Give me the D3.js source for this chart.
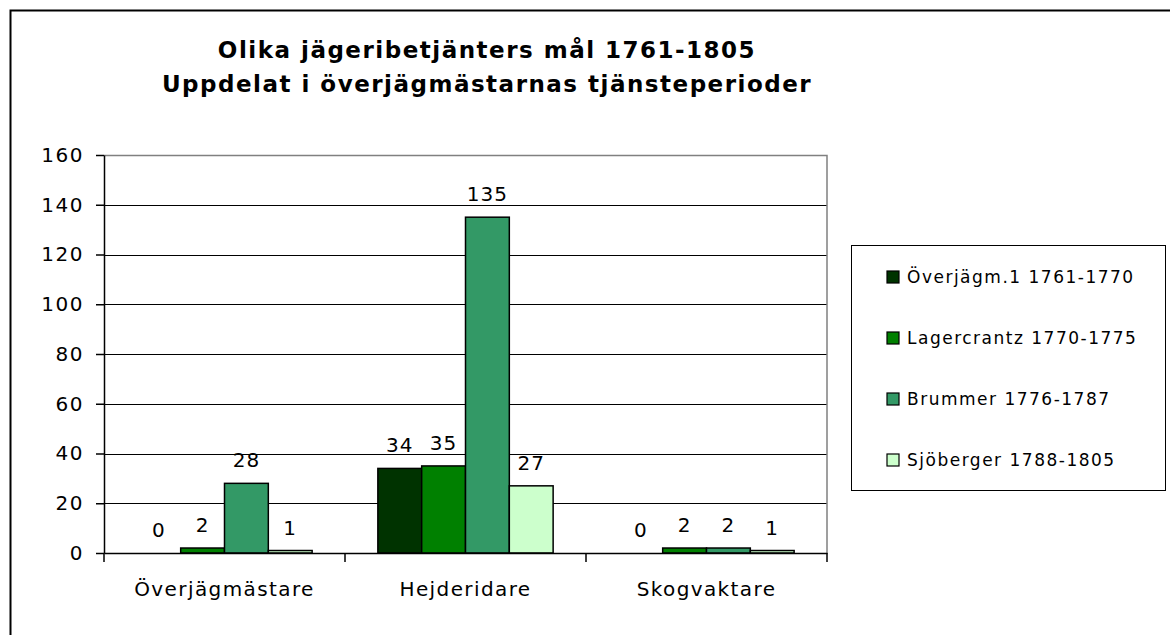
<!DOCTYPE html>
<html>
<head>
<meta charset="utf-8">
<script src="https://cdn.jsdelivr.net/npm/d3@7"></script>
<style>
  body { margin: 0; background: #fff; }
  svg { display: block; font-family: "DejaVu Sans", Verdana, sans-serif; }
</style>
</head>
<body>
<div id="chart-area"></div>
<script>
var categories = ["Överjägmästare", "Hejderidare", "Skogvaktare"];
var seriesNames = ["Överjägm.1 1761-1770", "Lagercrantz 1770-1775", "Brummer 1776-1787", "Sjöberger 1788-1805"];
var seriesColors = ["#003300", "#008000", "#339966", "#ccffcc"];
var overjagm1 = [0, 34, 0];
var lagercrantz = [2, 35, 2];
var brummer = [28, 135, 2];
var sjoberger = [1, 27, 1];
var yTicks = [0, 20, 40, 60, 80, 100, 120, 140, 160];
var titleLines = ["Olika jägeribetjänters mål 1761-1805", "Uppdelat i överjägmästarnas tjänsteperioder"];

var seriesValues = [overjagm1, lagercrantz, brummer, sjoberger];

var margin = {top: 155, left: 104, bottom: 82, right: 343},
    width = 1170 - margin.left - margin.right,
    height = 635 - margin.top - margin.bottom;

var svg = d3.select("#chart-area").append("svg")
    .attr("width", 1170)
    .attr("height", 635);

// outer chart border (runs off the right and bottom edges)
svg.append("rect")
    .attr("x", 10.5).attr("y", 10.5)
    .attr("width", 1200).attr("height", 700)
    .attr("fill", "none")
    .attr("stroke", "#000")
    .attr("stroke-width", 2);

var title = svg.append("text")
    .attr("x", 487)
    .attr("text-anchor", "middle")
    .style("font-weight", "bold")
    .style("font-size", "23px")
    .style("letter-spacing", "1.5px");
title.selectAll("tspan").data(titleLines).enter().append("tspan")
    .attr("x", 487)
    .attr("y", (d, i) => 58 + i * 34)
    .text((d) => d);

var g = svg.append("g")
    .attr("transform", "translate(" + margin.left + ", " + margin.top + ")");

var x0 = d3.scaleBand().domain(categories).range([0, width]).paddingInner(0).paddingOuter(0);
var gap = x0.bandwidth() * 1.5 / 5.5 / 2;
var x1 = d3.scaleBand().domain(d3.range(seriesNames.length))
    .range([gap, x0.bandwidth() - gap]).padding(0);
var y = d3.scaleLinear().domain([0, 160]).range([height, 0]);

// gridlines
g.append("g")
    .attr("class", "grid")
    .call(d3.axisLeft(y).tickValues(yTicks.slice(1, -1)).tickSize(-width).tickFormat(""))
    .call((s) => s.select(".domain").remove())
    .selectAll("line")
    .attr("stroke", "#000")
    .attr("shape-rendering", "crispEdges");

// plot area frame (top + right)
g.append("path")
    .attr("d", "M0,0.5H" + width + "V" + height)
    .attr("fill", "none")
    .attr("stroke", "#808080")
    .attr("stroke-width", 1.5);

var yAxis = g.append("g")
    .call(d3.axisLeft(y).tickValues(yTicks).tickSize(8).tickSizeOuter(0).tickPadding(12));
yAxis.select(".domain").attr("stroke", "#000").attr("stroke-width", 1.5);
yAxis.selectAll("line").attr("stroke", "#000").attr("stroke-width", 1.5);
yAxis.selectAll("text")
    .style("font-size", "20px")
    .style("letter-spacing", "1.5px")
    .style("font-family", "'DejaVu Sans', Verdana, sans-serif")
    .attr("fill", "#000");

// bars
var groups = g.selectAll(".cat").data(categories).enter().append("g")
    .attr("class", "cat")
    .attr("transform", (d) => "translate(" + x0(d) + ",0)");

groups.each(function(cat, ci) {
    var grp = d3.select(this);
    seriesValues.forEach((vals, si) => {
        var v = vals[ci];
        if (v > 0) {
            grp.append("rect")
                .attr("x", x1(si))
                .attr("y", y(v))
                .attr("width", x1.bandwidth())
                .attr("height", height - y(v))
                .attr("fill", seriesColors[si])
                .attr("stroke", "#000")
                .attr("stroke-width", 1.5);
        }
        grp.append("text")
            .attr("x", x1(si) + x1.bandwidth() / 2)
            .attr("y", y(v) - 16)
            .attr("text-anchor", "middle")
            .style("font-size", "20px")
            .style("letter-spacing", "1px")
            .text(v);
    });
});

// x axis
var xAxis = g.append("g")
    .attr("transform", "translate(0, " + height + ")")
    .call(d3.axisBottom(x0).tickSize(0).tickPadding(29));
xAxis.select(".domain").attr("stroke", "#000").attr("stroke-width", 1.5);
xAxis.selectAll("text")
    .style("font-size", "20px")
    .style("letter-spacing", "1.4px")
    .style("font-family", "'DejaVu Sans', Verdana, sans-serif")
    .attr("fill", "#000");
xAxis.selectAll(".sep").data(categories.concat([null])).enter().append("line")
    .attr("class", "sep")
    .attr("x1", (d) => d === null ? width : x0(d))
    .attr("x2", (d) => d === null ? width : x0(d))
    .attr("y1", 0).attr("y2", 9)
    .attr("stroke", "#000")
    .attr("stroke-width", 1.5);

// legend
var legend = svg.append("g").attr("transform", "translate(851, 245)");
legend.append("rect")
    .attr("x", 0.5).attr("y", 0.5)
    .attr("width", 314).attr("height", 245)
    .attr("fill", "#fff")
    .attr("stroke", "#000")
    .attr("stroke-width", 1);
var items = legend.selectAll(".item").data(seriesNames).enter().append("g")
    .attr("class", "item")
    .attr("transform", (d, i) => "translate(36, " + (32 + i * 61) + ")");
items.append("rect")
    .attr("x", 0).attr("y", -6)
    .attr("width", 12).attr("height", 12)
    .attr("fill", (d, i) => seriesColors[i])
    .attr("stroke", "#000")
    .attr("stroke-width", 1.2);
items.append("text")
    .attr("x", 20)
    .attr("dy", "0.35em")
    .style("font-size", "17px")
    .style("letter-spacing", "1.5px")
    .text((d) => d);
</script>
</body>
</html>
